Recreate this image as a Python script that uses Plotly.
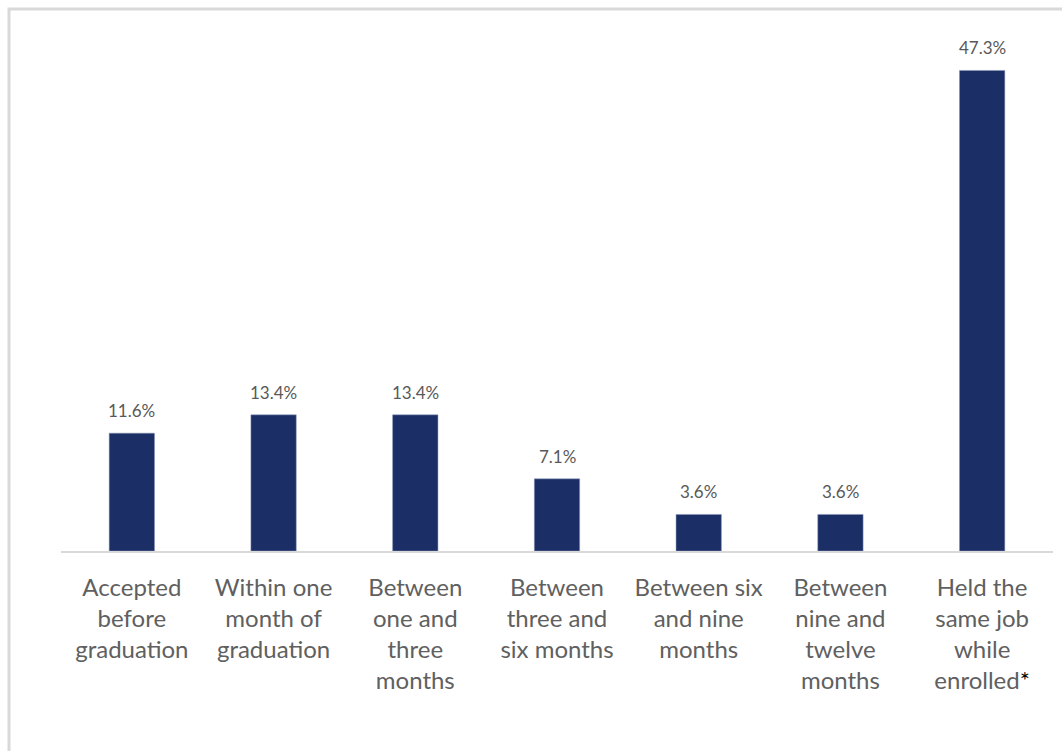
import plotly.graph_objects as go

categories = [
    "Accepted<br>before<br>graduation",
    "Within one<br>month of<br>graduation",
    "Between<br>one and<br>three<br>months",
    "Between<br>three and<br>six months",
    "Between six<br>and nine<br>months",
    "Between<br>nine and<br>twelve<br>months",
    "Held the<br>same job<br>while<br>enrolled<span style='color:black'>*</span>",
]
values = [11.6, 13.4, 13.4, 7.1, 3.6, 3.6, 47.3]
value_labels = ["11.6%", "13.4%", "13.4%", "7.1%", "3.6%", "3.6%", "47.3%"]

W, H = 1062, 751
L, R, T, B = 61, 9, 43, 200
pw, ph = W - L - R, H - T - B

fig = go.Figure(go.Bar(x=categories, y=values, marker=dict(color="#1b2f66", line=dict(color="#8a96b8", width=0.5)),
                       hoverinfo="skip"))

for c, v, t in zip(categories, values, value_labels):
    fig.add_annotation(x=c, y=v, text=t, showarrow=False, yanchor="bottom", yshift=10,
                       font=dict(family="Lato", size=17, color="#595959"))

fig.add_shape(type="rect", xref="paper", yref="paper",
              x0=(9 - L) / pw, x1=(W + 20 - L) / pw,
              y0=-(H + 20 - (H - B)) / ph, y1=(H - B - 9) / ph,
              line=dict(color="#d9d9d9", width=3), layer="below")

fig.update_layout(
    width=W, height=H,
    margin=dict(l=L, r=R, t=T, b=B),
    paper_bgcolor="white", plot_bgcolor="white",
    bargap=0.68, showlegend=False,
    font=dict(family="Lato", color="#595959"),
    xaxis=dict(showline=True, linecolor="#d9d9d9", linewidth=2, ticks="",
               ticklabelstandoff=14,
               tickfont=dict(family="Lato", size=24, color="#606060"), showgrid=False),
    yaxis=dict(range=[0, 50], visible=False, showgrid=False),
)

fig.write_html("out.html")
